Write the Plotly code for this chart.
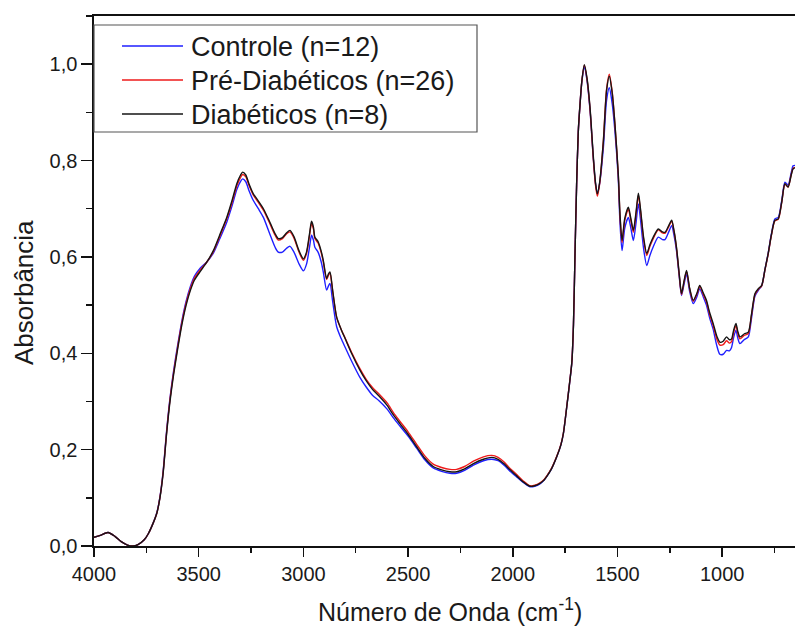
import plotly.graph_objects as go

wavenumber = [4000, 3970, 3933, 3900, 3870, 3840, 3814, 3790, 3760, 3740, 3717, 3700, 3685, 3670, 3653, 3637, 3620, 3600, 3580, 3560,
              3540, 3520, 3494, 3460, 3430, 3400, 3366, 3340, 3318, 3300, 3290, 3275, 3260, 3239, 3215, 3191, 3160, 3135, 3120, 3100,
              3080, 3064, 3045, 3020, 3000, 2985, 2970, 2961, 2952, 2945, 2930, 2915, 2905, 2889, 2880, 2873, 2860, 2841, 2820, 2800,
              2770, 2730, 2700, 2670, 2640, 2600, 2570, 2539, 2500, 2459, 2420, 2380, 2340, 2300, 2268, 2230, 2188, 2140, 2100, 2070,
              2040, 2013, 1980, 1950, 1918, 1895, 1870, 1850, 1838, 1815, 1790, 1770, 1758, 1742, 1727, 1718, 1710, 1703, 1695, 1687,
              1679, 1670, 1658, 1645, 1631, 1615, 1605, 1596, 1585, 1567, 1552, 1539, 1525, 1512, 1496, 1488, 1478, 1465, 1448, 1436,
              1424, 1412, 1400, 1390, 1375, 1360, 1345, 1329, 1305, 1285, 1273, 1255, 1241, 1230, 1218, 1205, 1194, 1182, 1170, 1155,
              1138, 1120, 1107, 1090, 1075, 1060, 1043, 1025, 1011, 995, 979, 965, 955, 945, 934, 925, 915, 895, 875, 860,
              843, 825, 811, 795, 780, 765, 748, 732, 715, 700, 685, 670, 661, 650]

diabeticos = [0.018, 0.022, 0.028, 0.020, 0.009, 0.002, 0.000, 0.003, 0.013, 0.026, 0.048, 0.068, 0.100, 0.150, 0.234, 0.300, 0.355, 0.410, 0.460, 0.500,
              0.530, 0.552, 0.569, 0.590, 0.613, 0.645, 0.682, 0.718, 0.752, 0.770, 0.776, 0.770, 0.752, 0.731, 0.716, 0.700, 0.672, 0.648, 0.638, 0.640,
              0.650, 0.655, 0.642, 0.612, 0.596, 0.610, 0.650, 0.674, 0.662, 0.641, 0.632, 0.612, 0.593, 0.555, 0.565, 0.569, 0.530, 0.475, 0.450, 0.430,
              0.400, 0.365, 0.343, 0.325, 0.312, 0.292, 0.272, 0.254, 0.232, 0.206, 0.182, 0.165, 0.158, 0.154, 0.154, 0.160, 0.171, 0.180, 0.184, 0.180,
              0.170, 0.158, 0.145, 0.133, 0.124, 0.125, 0.130, 0.137, 0.144, 0.160, 0.185, 0.210, 0.234, 0.289, 0.344, 0.380, 0.460, 0.600, 0.750, 0.860,
              0.915, 0.965, 0.999, 0.970, 0.910, 0.807, 0.755, 0.731, 0.755, 0.841, 0.945, 0.975, 0.940, 0.876, 0.772, 0.690, 0.634, 0.680, 0.703, 0.680,
              0.655, 0.690, 0.732, 0.700, 0.640, 0.607, 0.625, 0.641, 0.658, 0.652, 0.651, 0.665, 0.676, 0.655, 0.620, 0.565, 0.524, 0.550, 0.572, 0.535,
              0.510, 0.525, 0.541, 0.525, 0.510, 0.485, 0.462, 0.435, 0.423, 0.425, 0.434, 0.428, 0.430, 0.448, 0.462, 0.445, 0.434, 0.440, 0.444, 0.480,
              0.524, 0.535, 0.541, 0.575, 0.607, 0.645, 0.676, 0.679, 0.715, 0.752, 0.745, 0.770, 0.783, 0.785]

controle = [0.018, 0.022, 0.028, 0.020, 0.009, 0.002, 0.000, 0.003, 0.013, 0.026, 0.048, 0.069, 0.102, 0.154, 0.240, 0.307, 0.363, 0.418, 0.468, 0.508,
            0.538, 0.560, 0.576, 0.590, 0.608, 0.637, 0.672, 0.707, 0.740, 0.757, 0.762, 0.756, 0.738, 0.717, 0.700, 0.682, 0.647, 0.620, 0.610, 0.610,
            0.618, 0.622, 0.610, 0.585, 0.571, 0.585, 0.622, 0.645, 0.635, 0.620, 0.610, 0.590, 0.569, 0.531, 0.540, 0.545, 0.507, 0.455, 0.431, 0.412,
            0.384, 0.350, 0.330, 0.313, 0.302, 0.284, 0.266, 0.249, 0.228, 0.203, 0.179, 0.162, 0.155, 0.151, 0.151, 0.157, 0.168, 0.177, 0.180, 0.177,
            0.167, 0.155, 0.143, 0.132, 0.123, 0.124, 0.129, 0.137, 0.144, 0.160, 0.185, 0.210, 0.234, 0.289, 0.344, 0.380, 0.460, 0.600, 0.750, 0.860,
            0.915, 0.963, 0.996, 0.965, 0.905, 0.803, 0.753, 0.731, 0.752, 0.828, 0.925, 0.951, 0.918, 0.861, 0.762, 0.672, 0.613, 0.660, 0.682, 0.660,
            0.634, 0.668, 0.710, 0.678, 0.617, 0.582, 0.603, 0.621, 0.641, 0.636, 0.636, 0.652, 0.665, 0.645, 0.613, 0.560, 0.520, 0.543, 0.565, 0.528,
            0.503, 0.518, 0.534, 0.517, 0.500, 0.474, 0.450, 0.415, 0.398, 0.398, 0.406, 0.405, 0.412, 0.433, 0.448, 0.431, 0.420, 0.428, 0.434, 0.472,
            0.519, 0.532, 0.540, 0.575, 0.608, 0.647, 0.679, 0.682, 0.718, 0.755, 0.749, 0.775, 0.789, 0.790]

pre_diabeticos = [0.018, 0.022, 0.028, 0.020, 0.009, 0.002, 0.000, 0.003, 0.013, 0.026, 0.048, 0.068, 0.101, 0.152, 0.237, 0.304, 0.359, 0.414, 0.464, 0.504,
                  0.534, 0.556, 0.572, 0.590, 0.611, 0.642, 0.679, 0.714, 0.747, 0.765, 0.771, 0.766, 0.749, 0.728, 0.713, 0.697, 0.669, 0.645, 0.635, 0.638,
                  0.648, 0.652, 0.639, 0.609, 0.593, 0.607, 0.646, 0.670, 0.658, 0.638, 0.629, 0.609, 0.590, 0.553, 0.562, 0.566, 0.528, 0.474, 0.450, 0.431,
                  0.402, 0.368, 0.346, 0.329, 0.316, 0.297, 0.277, 0.259, 0.237, 0.211, 0.187, 0.170, 0.163, 0.159, 0.159, 0.165, 0.176, 0.185, 0.188, 0.184,
                  0.174, 0.161, 0.148, 0.135, 0.125, 0.126, 0.131, 0.138, 0.145, 0.161, 0.186, 0.211, 0.235, 0.290, 0.345, 0.381, 0.461, 0.600, 0.750, 0.860,
                  0.915, 0.965, 0.998, 0.968, 0.907, 0.802, 0.750, 0.726, 0.752, 0.843, 0.948, 0.979, 0.942, 0.875, 0.770, 0.686, 0.630, 0.676, 0.699, 0.676,
                  0.651, 0.686, 0.728, 0.696, 0.636, 0.603, 0.622, 0.638, 0.656, 0.650, 0.649, 0.663, 0.674, 0.653, 0.618, 0.563, 0.522, 0.548, 0.570, 0.533,
                  0.508, 0.523, 0.539, 0.522, 0.507, 0.481, 0.458, 0.429, 0.417, 0.418, 0.426, 0.421, 0.424, 0.443, 0.458, 0.441, 0.430, 0.437, 0.441, 0.478,
                  0.522, 0.534, 0.540, 0.574, 0.606, 0.644, 0.675, 0.678, 0.714, 0.751, 0.745, 0.771, 0.784, 0.786]

assert len(wavenumber) == len(diabeticos) == len(controle) == len(pre_diabeticos)

series_names = ["Controle (n=12)", "Pré-Diabéticos (n=26)", "Diabéticos (n=8)"]
series_values = [controle, pre_diabeticos, diabeticos]
series_colors = ["#1f1fff", "#ee1b1b", "#151515"]

FONT = "Arial, 'Liberation Sans', sans-serif"
TXT = "#1a1a1a"

# plot-area geometry in pixels (figure is 795 x 628)
L, T, B = 94, 16, 82
PW, PH = 795 - L, 628 - T - B


def px_x(x):
    return (x - L) / PW


def px_y(y):
    return (628 - B - y) / PH


fig = go.Figure()
for name, vals, col in zip(series_names, series_values, series_colors):
    fig.add_trace(go.Scatter(x=wavenumber, y=vals, mode="lines", name=name, showlegend=False,
                             line=dict(color=col, width=1.4, shape="spline", smoothing=0.7)))

axis_common = dict(showline=True, linecolor="#111", linewidth=1.6, showgrid=False, zeroline=False,
                   ticks="outside", tickcolor="#111", tickwidth=1.5,
                   tickfont=dict(family=FONT, size=20, color=TXT))

# legend box drawn as shapes + text
shapes = [dict(type="rect", xref="paper", yref="paper", x0=px_x(94), x1=px_x(477), y0=px_y(132), y1=px_y(25),
               line=dict(color="#555", width=1.2), fillcolor="white", layer="above")]
annotations = []
rows_y = [46, 80, 114]
for name, col, ry in zip(series_names, series_colors, rows_y):
    shapes.append(dict(type="line", xref="paper", yref="paper", x0=px_x(122), x1=px_x(183),
                       y0=px_y(ry), y1=px_y(ry), line=dict(color=col, width=1.4), layer="above"))
    annotations.append(dict(text=name, xref="paper", yref="paper", x=px_x(189), y=px_y(ry + 1),
                            xanchor="left", yanchor="middle", showarrow=False,
                            font=dict(family=FONT, size=27, color=TXT)))

annotations += [
    dict(text="Absorbância", xref="paper", yref="paper", x=px_x(24), y=px_y(293),
         showarrow=False, textangle=-90, xanchor="center", yanchor="middle",
         font=dict(family=FONT, size=26, color=TXT)),
    dict(text="Número de Onda (cm<sup>-1</sup>)", xref="paper", yref="paper", x=px_x(450),
         y=px_y(610), showarrow=False, xanchor="center", yanchor="middle",
         font=dict(family=FONT, size=25, color=TXT)),
]

fig.update_layout(
    width=795, height=628,
    margin=dict(l=L, r=0, t=T, b=B, autoexpand=False),
    paper_bgcolor="white", plot_bgcolor="white",
    separators=",.",
    font=dict(family=FONT, color=TXT),
    showlegend=False,
    hovermode=False,
    xaxis=dict(range=[4000, 652], dtick=500, tick0=0, ticklen=9, mirror=True, automargin=False,
               minor=dict(dtick=250, tick0=0, ticklen=5, ticks="outside", tickcolor="#111", tickwidth=1.5),
               **axis_common),
    yaxis=dict(range=[0, 1.1], dtick=0.2, tick0=0, ticklen=11, tickformat=".1f", mirror=False, automargin=False,
               minor=dict(dtick=0.1, tick0=0, ticklen=6, ticks="outside", tickcolor="#111", tickwidth=1.5),
               **axis_common),
    shapes=shapes,
    annotations=annotations,
)

fig.write_html("out.html", config={"displayModeBar": False, "staticPlot": True},
               post_script="document.body.style.margin='0';document.body.style.overflow='hidden';")
